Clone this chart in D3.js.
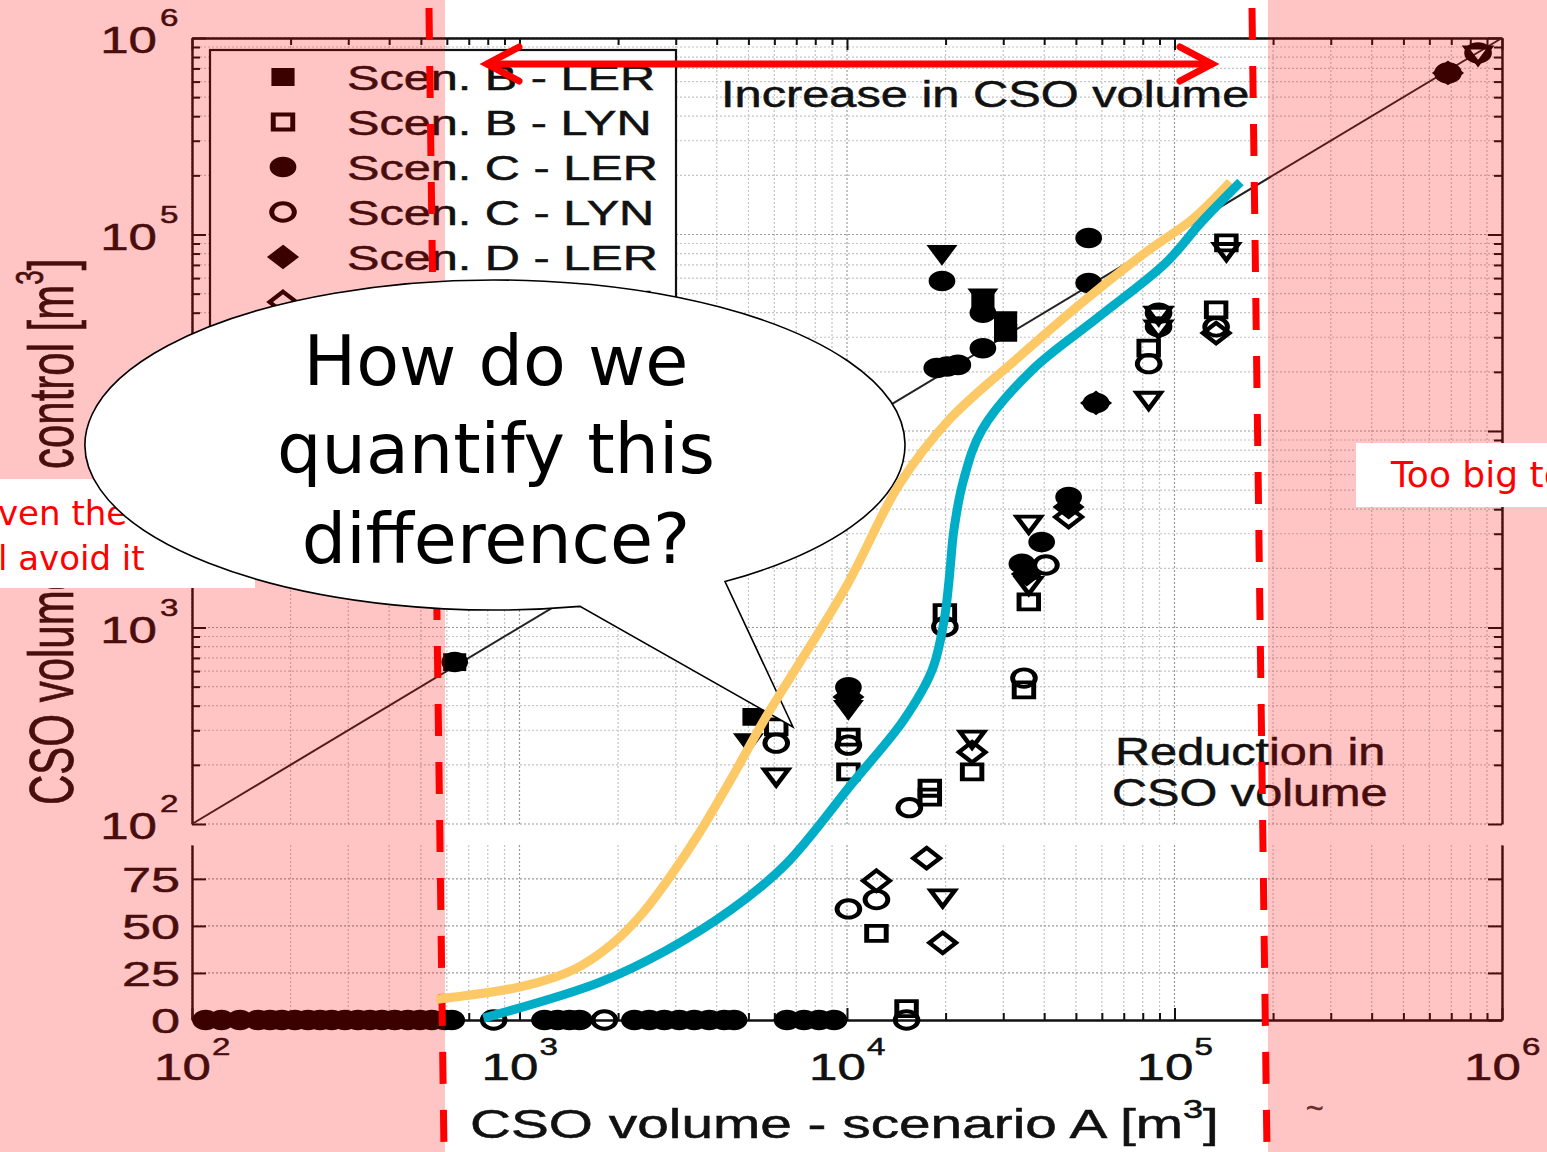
<!DOCTYPE html>
<html>
<head>
<meta charset="utf-8">
<script src="https://cdnjs.cloudflare.com/ajax/libs/d3/7.8.5/d3.min.js"></script>
<style>
  body { margin: 0; background: #fff; }
  svg { display: block; }
</style>
</head>
<body>
<script>
// ---- data ----
var decades = [1e2, 1e3, 1e4, 1e5, 1e6];
var decadeExp = ["2", "3", "4", "5", "6"];
var lowerTicks = [0, 25, 50, 75];
var lowerTickLabels = ["0", "25", "50", "75"];

var legendLabels = ["Scen. B - LER", "Scen. B - LYN", "Scen. C - LER", "Scen. C - LYN",
                    "Scen. D - LER", "Scen. D - LYN"];

// [scenario A volume, volume with control]
var scenBLer = [[634, 667], [26000, 45400], [30500, 36700], [30500, 31600], [5200, 351]];
var scenBLyn = [[83400, 26400], [144000, 90600], [134000, 41300], [35900, 1350], [19900, 1190],
                [34700, 481], [10100, 277], [10100, 184], [6080, 312], [24100, 184],
                [17900, 152], [17900, 137], [12300, 46], [15200, 6]];
var scenCLer = [[634, 667], [684000, 664000], [19500, 58000], [18800, 20900], [20200, 21300],
                [21800, 21700], [26000, 26400], [26000, 40000], [54700, 96000], [54700, 56600],
                [57600, 13900], [47500, 4610], [39300, 2720], [34200, 2110], [10100, 497],
                [110, 0], [123, 0], [140, 0], [159, 0], [173, 0], [188, 0], [206, 0], [226, 0],
                [246, 0], [267, 0], [293, 0], [321, 0], [349, 0], [380, 0], [416, 0], [456, 0],
                [496, 0], [540, 0], [591, 0], [621, 0], [1192, 0], [1306, 0], [1420, 0], [1524, 0],
                [2243, 0], [2490, 0], [2767, 0], [3075, 0], [3416, 0], [3796, 0], [4219, 0],
                [4522, 0], [6560, 0], [7390, 0], [8220, 0], [9130, 0]];
var scenCLyn = [[845000, 840000], [684000, 664000], [89400, 39800], [89400, 33900], [83400, 22000],
                [134000, 33900], [40500, 2080], [19900, 1010], [34700, 553], [10100, 252],
                [6080, 258], [15500, 121], [12300, 64], [10100, 59], [15200, 0], [834, 0], [1817, 0]];
var scenDLer = [[684000, 664000], [57600, 13900], [47500, 4100], [35400, 1870], [10100, 443]];
var scenDLyn = [[134000, 31500], [47500, 3650], [24100, 232], [17500, 86], [12300, 74], [19600, 41]];
var scenELer = [[19500, 81500], [26000, 49000], [10100, 394], [5000, 267]];
var scenELyn = [[845000, 840000], [89400, 39800], [89400, 33900], [144000, 84000], [83400, 14700],
                [35900, 3440], [35900, 1680], [24100, 277], [6080, 178], [19600, 66]];

// hand drawn trend curves
var orangeCurve = [[558, 11], [1028, 18], [1472, 27], [1905, 40], [2355, 56], [2905, 77],
                   [3540, 97], [4460, 173], [5660, 351], [9930, 1610], [14400, 5300],
                   [20500, 11400], [32700, 23000], [52000, 44800], [83400, 83300],
                   [113000, 119000], [148000, 185000]];
var tealCurve = [[776, 1], [1754, 20], [2808, 37], [4460, 59], [6520, 83], [10400, 162],
                 [14900, 338], [18200, 608], [19800, 1090], [20500, 1750], [21200, 3130],
                 [22700, 5640], [25800, 10100], [36700, 20400], [58600, 38000], [94000, 71600],
                 [121000, 116000], [159000, 185000]];

// ---- layout ----
var W = 1547, H = 1152;
var font = "'Liberation Sans', Arial, Helvetica, sans-serif";
var comic = "'Comic Sans MS', 'DejaVu Sans', sans-serif";

var svg = d3.select("body").append("svg").attr("width", W).attr("height", H);
svg.append("rect").attr("width", W).attr("height", H).attr("fill", "#fff");

var x = d3.scaleLog().domain([1e2, 1e6]).range([192, 1502]);
var yTop = d3.scaleLog().domain([1e2, 1e6]).range([824, 38]);
var yBot = d3.scaleLinear().domain([0, 93]).range([1020, 845]);
// both panels in one: linear below 93, log above 100
function yAny(v) {
    if (v >= 100) return yTop(v);
    if (v <= 93) return yBot(v);
    return yBot(93) + (v - 93) / 7 * (yTop(100) - yBot(93));
}

var minor = [];
decades.slice(0, 4).forEach(function (d) {
    for (var k = 2; k < 10; k++) minor.push(d * k);
});

function txt(g, str, tx, ty, size, sx, anchor, family) {
    return g.append("text")
        .attr("transform", "translate(" + tx + "," + ty + ") scale(" + sx + ",1)")
        .attr("font-size", size)
        .attr("font-family", family || font)
        .attr("text-anchor", anchor || "start")
        .attr("fill", "#111")
        .attr("stroke", "#111").attr("stroke-width", 0.5)
        .text(str);
}

var chart = svg.append("g");

// grid
var grid = chart.append("g").attr("fill", "none");
function vGrid(vals, y0, y1, col) {
    grid.selectAll(null).data(vals).enter().append("line")
        .attr("x1", function (d) { return x(d); }).attr("x2", function (d) { return x(d); })
        .attr("y1", y0).attr("y2", y1)
        .attr("stroke", col).attr("stroke-width", 1.2).attr("stroke-dasharray", "2,2");
}
vGrid(minor, 38, 824, "#c4c4c4");
vGrid(decades, 38, 824, "#9a9a9a");
vGrid(minor, 845, 1020, "#c4c4c4");
vGrid(decades, 845, 1020, "#9a9a9a");
grid.selectAll(null).data(minor).enter().append("line")
    .attr("x1", 192).attr("x2", 1502)
    .attr("y1", function (d) { return yTop(d); }).attr("y2", function (d) { return yTop(d); })
    .attr("stroke", "#c4c4c4").attr("stroke-width", 1.2).attr("stroke-dasharray", "2,2");
grid.selectAll(null).data(decades).enter().append("line")
    .attr("x1", 192).attr("x2", 1502)
    .attr("y1", function (d) { return yTop(d); }).attr("y2", function (d) { return yTop(d); })
    .attr("stroke", "#9a9a9a").attr("stroke-width", 1.2).attr("stroke-dasharray", "2,2");
grid.selectAll(null).data(lowerTicks.slice(1)).enter().append("line")
    .attr("x1", 192).attr("x2", 1502)
    .attr("y1", function (d) { return yBot(d); }).attr("y2", function (d) { return yBot(d); })
    .attr("stroke", "#9a9a9a").attr("stroke-width", 1.2).attr("stroke-dasharray", "2,2");

// axes (ticks pointing inside)
function axis(gen, tx, ty, vals, size, showDomain) {
    var a = gen.tickValues(vals).tickSize(size).tickSizeOuter(0).tickFormat("");
    var g = chart.append("g").attr("transform", "translate(" + tx + "," + ty + ")").call(a);
    g.selectAll("line").attr("stroke", "#111").attr("stroke-width", 2);
    g.select(".domain").attr("stroke", "#111").attr("stroke-width", 2.4);
    if (!showDomain) g.select(".domain").remove();
}
axis(d3.axisRight(yTop), 192, 0, decades, 14, true);
axis(d3.axisRight(yTop), 192, 0, minor, 8, false);
axis(d3.axisLeft(yTop), 1502, 0, decades, 14, true);
axis(d3.axisLeft(yTop), 1502, 0, minor, 8, false);
axis(d3.axisBottom(x), 0, 38, decades, 12, true);
axis(d3.axisBottom(x), 0, 38, minor, 7, false);
axis(d3.axisRight(yBot), 192, 0, lowerTicks, 14, true);
axis(d3.axisLeft(yBot), 1502, 0, lowerTicks, 14, true);
axis(d3.axisTop(x), 0, 1020, decades, 12, true);
axis(d3.axisTop(x), 0, 1020, minor, 7, false);

// tick labels
decades.forEach(function (d, i) {
    txt(chart, "10", 157, yTop(d) + 15, 37, 1.38, "end");
    txt(chart, decadeExp[i], 160, yTop(d) - 12, 24, 1.38, "start");
    txt(chart, "10", x(d) - 38, 1080, 37, 1.38, "start");
    txt(chart, decadeExp[i], x(d) + 20, 1055, 24, 1.38, "start");
});
lowerTicks.forEach(function (d, i) {
    txt(chart, lowerTickLabels[i], 180, yBot(d) + 13, 36, 1.45, "end");
});

// axis titles
var xt = txt(chart, "", 470, 1138, 41, 1.385, "start");
xt.append("tspan").text("CSO volume - scenario A [m");
xt.append("tspan").attr("dy", -20).attr("font-size", 26).text("3");
xt.append("tspan").attr("dy", 20).text("]");

var yt = chart.append("text")
    .attr("transform", "translate(73,805) scale(1.5,1) rotate(-90)")
    .attr("font-size", 42).attr("font-family", font).attr("fill", "#111")
    .attr("stroke", "#111").attr("stroke-width", 0.5);
yt.append("tspan").text("CSO volume with control [m");
yt.append("tspan").attr("dy", -20).attr("font-size", 26).text("3");
yt.append("tspan").attr("dy", 20).text("]");

// 1:1 line
chart.append("line")
    .attr("x1", x(1e2)).attr("y1", yTop(1e2)).attr("x2", x(1e6)).attr("y2", yTop(1e6))
    .attr("stroke", "#222").attr("stroke-width", 2);

// markers
var diamond = {
    draw: function (ctx, size) {
        var r = Math.sqrt(size / 2);
        ctx.moveTo(0, -r); ctx.lineTo(r, 0); ctx.lineTo(0, r); ctx.lineTo(-r, 0); ctx.closePath();
    }
};
var series = [
    { data: scenBLer, type: d3.symbolSquare, size: 250, filled: true, rot: 0 },
    { data: scenBLyn, type: d3.symbolSquare, size: 225, filled: false, rot: 0 },
    { data: scenCLer, type: d3.symbolCircle, size: 270, filled: true, rot: 0 },
    { data: scenCLyn, type: d3.symbolCircle, size: 240, filled: false, rot: 0 },
    { data: scenDLer, type: diamond, size: 240, filled: true, rot: 0 },
    { data: scenDLyn, type: diamond, size: 210, filled: false, rot: 0 },
    { data: scenELer, type: d3.symbolTriangle, size: 180, filled: true, rot: 180 },
    { data: scenELyn, type: d3.symbolTriangle, size: 150, filled: false, rot: 180 }
];
function styleMarker(sel, s) {
    sel.attr("d", d3.symbol().type(s.type).size(s.size)())
        .attr("fill", s.filled ? "#000" : "none")
        .attr("stroke", "#000")
        .attr("stroke-width", s.filled ? 2 : 3.8);
}
series.forEach(function (s) {
    chart.append("g").selectAll("path").data(s.data).enter().append("path")
        .attr("transform", function (d) {
            return "translate(" + x(d[0]) + "," + yAny(d[1]) + ") scale(1.3,1) rotate(" + s.rot + ")";
        })
        .call(styleMarker, s);
});

// legend (lower entries sit behind the speech bubble)
var legend = chart.append("g");
legend.append("rect").attr("x", 210).attr("y", 50).attr("width", 466).attr("height", 290)
    .attr("fill", "#fff").attr("stroke", "#111").attr("stroke-width", 2.2);
legendLabels.forEach(function (lab, i) {
    var cy = 77 + 45 * i, s = series[i];
    legend.append("path")
        .attr("transform", "translate(283," + cy + ") scale(1.3,1) rotate(" + s.rot + ")")
        .call(styleMarker, s);
    txt(legend, lab, 347, cy + 13, 35, 1.39, "start");
});

// figure annotations
txt(chart, "Increase in CSO volume", 721, 107, 37.5, 1.3, "start");
txt(chart, "Reduction in", 1115, 765, 38, 1.28, "start");
txt(chart, "CSO volume", 1112, 806, 38, 1.28, "start");
txt(chart, "~", 1306, 1118, 30, 1, "start").attr("fill", "#444");

// pink shading outside the white band
var shade = svg.append("g").attr("fill", "#ff0000").attr("fill-opacity", 0.23);
shade.append("rect").attr("x", 0).attr("y", 0).attr("width", 445).attr("height", H);
shade.append("rect").attr("x", 1268).attr("y", 0).attr("width", W - 1268).attr("height", H);

// red dashed limits
var red = "#ff0000";
[[429, 8, 444, H], [1252, 8, 1267, H]].forEach(function (l) {
    svg.append("line").attr("x1", l[0]).attr("y1", l[1]).attr("x2", l[2]).attr("y2", l[3])
        .attr("stroke", red).attr("stroke-width", 7).attr("stroke-dasharray", "32,26");
});

// double headed arrow
var arrow = svg.append("g").attr("stroke", red).attr("stroke-width", 7)
    .attr("stroke-linecap", "round").attr("fill", "none");
arrow.append("line").attr("x1", 488).attr("y1", 64).attr("x2", 1211).attr("y2", 64);
arrow.append("path").attr("d", "M519,47 L487,64 L519,81");
arrow.append("path").attr("d", "M1180,47 L1212,64 L1180,81");

// white boxes with red notes
svg.append("rect").attr("x", -5).attr("y", 479).attr("width", 260).attr("height", 109).attr("fill", "#fff");
svg.append("text").attr("x", -2).attr("y", 525).attr("font-size", 34).attr("font-family", comic)
    .attr("fill", red).text("ven the");
svg.append("text").attr("x", -2).attr("y", 570).attr("font-size", 34).attr("font-family", comic)
    .attr("fill", red).text("l avoid it");
svg.append("rect").attr("x", 1356).attr("y", 443).attr("width", 200).attr("height", 64).attr("fill", "#fff");
svg.append("text").attr("x", 1391).attr("y", 487).attr("font-size", 36).attr("font-family", comic)
    .attr("fill", red).text("Too big to");

// speech bubble
var cx = 495, cy = 445, rx = 410, ry = 165;
function ellY(px) { var t = (px - cx) / rx; return cy + ry * Math.sqrt(1 - t * t); }
var bubble = "M580," + ellY(580) + " A" + rx + "," + ry + " 0 1 1 725," + ellY(725) + " L793,727 Z";
svg.append("path").attr("d", bubble).attr("fill", "#fff").attr("stroke", "#000").attr("stroke-width", 1.6);
[["How do we", 385], ["quantify this", 473], ["difference?", 563]].forEach(function (l) {
    svg.append("text").attr("x", 496).attr("y", l[1]).attr("text-anchor", "middle")
        .attr("font-size", 70).attr("font-family", comic).attr("fill", "#000").text(l[0]);
});

// trend curves drawn over everything
var line = d3.line()
    .x(function (d) { return x(d[0]); })
    .y(function (d) { return yAny(d[1]); })
    .curve(d3.curveCatmullRom.alpha(0.5));
svg.append("path").datum(orangeCurve).attr("d", line).attr("fill", "none")
    .attr("stroke", "#fdc966").attr("stroke-width", 9);
svg.append("path").datum(tealCurve).attr("d", line).attr("fill", "none")
    .attr("stroke", "#00adc6").attr("stroke-width", 9);
</script>
</body>
</html>
